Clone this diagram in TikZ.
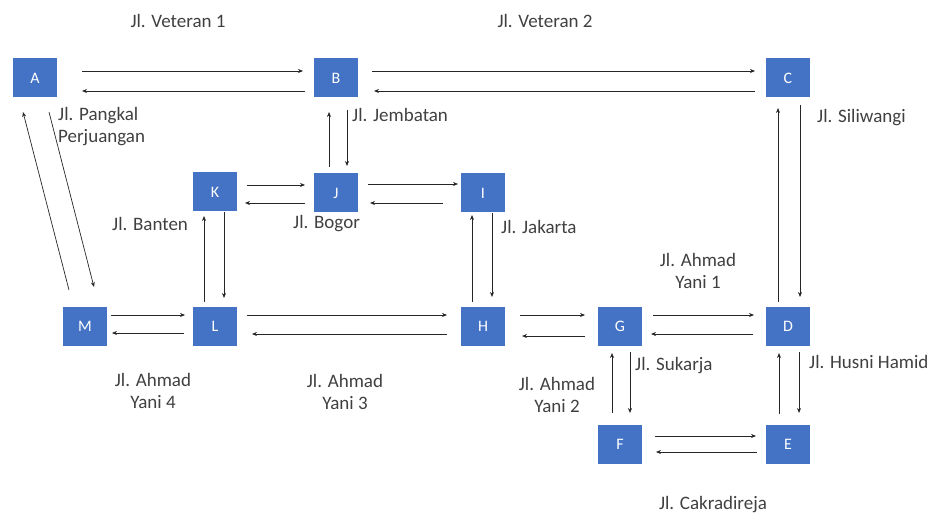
\documentclass[tikz,border=0pt]{standalone}
\usepackage{fontspec}
\setmainfont{Carlito}
\usetikzlibrary{arrows.meta}
\definecolor{boxblue}{HTML}{4472C4}
\definecolor{txtgray}{HTML}{404040}
\begin{document}
\begin{tikzpicture}[x=1pt,y=-1pt,
  place/.style={fill=boxblue,draw=none,minimum width=44pt,minimum height=39pt,inner sep=0pt,
    text=white,font=\fontsize{16}{18}\selectfont},
  lbl/.style={inner sep=0pt,text=txtgray,font=\fontsize{19}{22}\selectfont,align=center},
  lbll/.style={lbl,anchor=west,align=left},
  arr/.style={draw=black!85,line width=0.7pt,-{Stealth[length=5pt,width=4pt]}}]
\useasboundingbox (0,0) rectangle (932,513);
% places
\node[place] (A) at (35,78) {A};
\node[place] (B) at (336,78) {B};
\node[place] (C) at (788,78) {C};
\node[place] (K) at (215,192) {K};
\node[place] (J) at (336,193) {J};
\node[place] (I) at (483,193) {I};
\node[place] (M) at (85,326) {M};
\node[place] (L) at (215,326) {L};
\node[place] (H) at (483,326) {H};
\node[place] (G) at (620,326) {G};
\node[place] (D) at (788,326) {D};
\node[place] (F) at (620,444) {F};
\node[place] (E) at (788,444) {E};
% labels
\node[lbl] (t1) at (178,21) {Jl. Veteran 1};
\node[lbl] (t2) at (545,21) {Jl. Veteran 2};
\node[lbll] (t3) at (58,127) {Jl. Pangkal\\Perjuangan};
\node[lbll] (t4) at (352,115) {Jl. Jembatan};
\node[lbll] (t5) at (817,118) {Jl. Siliwangi};
\node[lbll] (t6) at (112,224) {Jl. Banten};
\node[lbll] (t7) at (293,224) {Jl. Bogor};
\node[lbll] (t8) at (501,227) {Jl. Jakarta};
\node[lbl] (t9) at (698,271) {Jl. Ahmad\\Yani 1};
\node[lbl] (t10) at (153,391) {Jl. Ahmad\\Yani 4};
\node[lbl] (t11) at (345,392) {Jl. Ahmad\\Yani 3};
\node[lbl] (t12) at (557,395) {Jl. Ahmad\\Yani 2};
\node[lbll] (t13) at (635,366) {Jl. Sukarja};
\node[lbll] (t14) at (809,362) {Jl. Husni Hamid};
\node[lbl] (t15) at (713,505) {Jl. Cakradireja};
% connectors
\draw[arr] ([shift={(47,-7)}]A.center) -- ([shift={(-33,-7)}]B.center);
\draw[arr] ([shift={(-31,13)}]B.center) -- ([shift={(47,13)}]A.center);
\draw[arr] ([shift={(36,-7)}]B.center) -- ([shift={(-33,-7)}]C.center);
\draw[arr] ([shift={(-33,13)}]C.center) -- ([shift={(38,13)}]B.center);
\draw[arr] ([shift={(11,32)}]B.center) -- ([shift={(11,-27)}]J.center);
\draw[arr] ([shift={(-7,-26)}]J.center) -- ([shift={(-7,34)}]B.center);
\draw[arr] ([shift={(12,27)}]C.center) -- ([shift={(12,-29)}]D.center);
\draw[arr] ([shift={(-10,-24)}]D.center) -- ([shift={(-10,30)}]C.center);
\draw[arr] ([shift={(-16,-36)}]M.center) -- ([shift={(-12,34)}]A.center);
\draw[arr] ([shift={(14,34)}]A.center) -- ([shift={(9,-39)}]M.center);
\draw[arr] ([shift={(32,-7)}]K.center) -- ([shift={(-31,-8)}]J.center);
\draw[arr] ([shift={(-31,10)}]J.center) -- ([shift={(30,11)}]K.center);
\draw[arr] ([shift={(32,-9)}]J.center) -- ([shift={(-25,-9)}]I.center);
\draw[arr] ([shift={(-40,10)}]I.center) -- ([shift={(34,10)}]J.center);
\draw[arr] ([shift={(-11,-24)}]L.center) -- ([shift={(-11,24)}]K.center);
\draw[arr] ([shift={(9,20)}]K.center) -- ([shift={(9,-28)}]L.center);
\draw[arr] ([shift={(9,20)}]I.center) -- ([shift={(9,-29)}]H.center);
\draw[arr] ([shift={(-11,-24)}]H.center) -- ([shift={(-11,22)}]I.center);
\draw[arr] ([shift={(26,-11)}]M.center) -- ([shift={(-30,-11)}]L.center);
\draw[arr] ([shift={(-31,7)}]L.center) -- ([shift={(27,7)}]M.center);
\draw[arr] ([shift={(32,-11)}]L.center) -- ([shift={(-36,-11)}]H.center);
\draw[arr] ([shift={(-36,8)}]H.center) -- ([shift={(37,8)}]L.center);
\draw[arr] ([shift={(37,-11)}]H.center) -- ([shift={(-35,-11)}]G.center);
\draw[arr] ([shift={(-35,10)}]G.center) -- ([shift={(39,10)}]H.center);
\draw[arr] ([shift={(33,-11)}]G.center) -- ([shift={(-34,-11)}]D.center);
\draw[arr] ([shift={(-35,8)}]D.center) -- ([shift={(31,8)}]G.center);
\draw[arr] ([shift={(10,26)}]G.center) -- ([shift={(10,-31)}]F.center);
\draw[arr] ([shift={(-8,-31)}]F.center) -- ([shift={(-8,27)}]G.center);
\draw[arr] ([shift={(11,26)}]D.center) -- ([shift={(11,-31)}]E.center);
\draw[arr] ([shift={(-9,-30)}]E.center) -- ([shift={(-9,27)}]D.center);
\draw[arr] ([shift={(35,-8)}]F.center) -- ([shift={(-32,-8)}]E.center);
\draw[arr] ([shift={(-31,8)}]E.center) -- ([shift={(36,8)}]F.center);
\end{tikzpicture}
\end{document}
